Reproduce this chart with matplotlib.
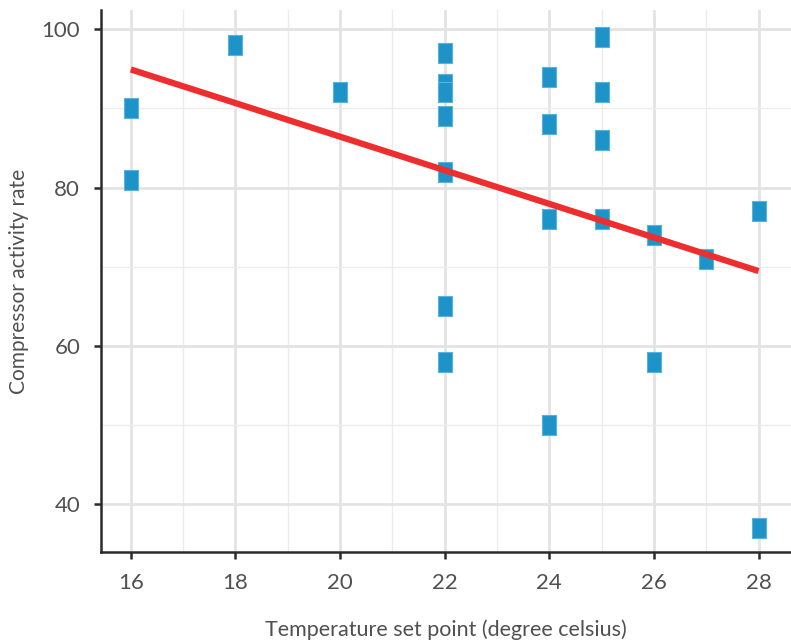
import numpy as np
import matplotlib
matplotlib.use("Agg")
import matplotlib.pyplot as plt
from matplotlib.path import Path
from matplotlib.ticker import MultipleLocator

# temperature set point vs compressor activity rate
temp = [16, 16, 18, 20, 22, 22, 22, 22, 22, 22, 22,
        24, 24, 24, 24, 25, 25, 25, 25, 26, 26, 27, 28, 28]
rate = [90, 81, 98, 92, 97, 93, 92, 89, 82, 65, 58,
        94, 88, 76, 50, 99, 92, 86, 76, 74, 58, 71, 77, 37]

x_ticks = [16, 18, 20, 22, 24, 26, 28]
y_ticks = [40, 60, 80, 100]

plt.rcParams['font.family'] = ['Lato', 'DejaVu Sans']

fig = plt.figure(figsize=(7.91, 6.42), dpi=100)
ax = fig.add_axes([0.1277, 0.1402, 0.8723, 0.8442])

# grid
ax.set_axisbelow(True)
ax.xaxis.set_minor_locator(MultipleLocator(1))
ax.yaxis.set_minor_locator(MultipleLocator(10))
ax.grid(which='major', color='#e3e3e3', linewidth=2.0)
ax.grid(which='minor', color='#ececec', linewidth=1.0)

# rounded-rectangle marker
w, h = 0.36, 0.5
rect = Path([(-w, -h), (w, -h), (w, h), (-w, h), (-w, -h)],
            [Path.MOVETO, Path.LINETO, Path.LINETO, Path.LINETO, Path.CLOSEPOLY])
ax.scatter(temp, rate, marker=rect, s=190, c='#1e93c8',
           edgecolors='#5ab2dc', linewidths=0.8, zorder=3)

# linear fit
xs = np.array(temp, dtype=float)
ys = np.array(rate, dtype=float)
k, b = np.polyfit(xs, ys, 1)
xl = np.array([16, 28])
ax.plot(xl, k * xl + b, color='#ee2e2e', linewidth=4.5, solid_capstyle='butt', zorder=4)

ax.set_xlim(15.43, 28.62)
ax.set_ylim(34.0, 102.4)
ax.set_xticks(x_ticks)
ax.set_yticks(y_ticks)

for s in ['top', 'right']:
    ax.spines[s].set_visible(False)
for s in ['left', 'bottom']:
    ax.spines[s].set_color('#2b2b2b')
    ax.spines[s].set_linewidth(1.8)

ax.tick_params(which='major', length=5, width=1.8, color='#2b2b2b',
               labelsize=16, labelcolor='#505050', pad=10)
ax.tick_params(which='minor', length=0)

ax.set_xlabel('Temperature set point (degree celsius)', fontsize=15.5,
              color='#505050', labelpad=19)
ax.set_ylabel('Compressor activity rate', fontsize=15,
              color='#505050', labelpad=9)

fig.savefig('out.png', dpi=100)
